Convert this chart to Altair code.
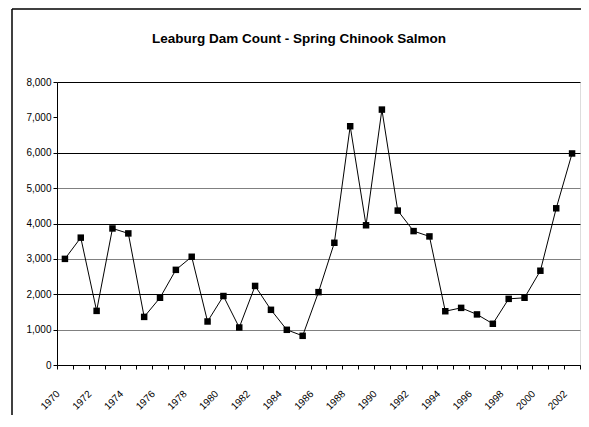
import altair as alt
import pandas as pd

years = list(range(1970, 2003))
counts = [3000, 3600, 1530, 3860, 3720, 1360, 1900, 2690, 3060, 1230,
          1950, 1060, 2235, 1560, 995, 825, 2060, 3455, 6750, 3950,
          7220, 4365, 3785, 3635, 1520, 1615, 1430, 1165, 1870, 1900,
          2665, 4430, 5980]
y_ticks = [0, 1000, 2000, 3000, 4000, 5000, 6000, 7000, 8000]
title_text = "Leaburg Dam Count - Spring Chinook Salmon"

df = pd.DataFrame({"year": years, "count": counts})

FONT = "Liberation Sans"

x_enc = alt.X(
    "year:O",
    scale=alt.Scale(type="band", paddingInner=0, paddingOuter=0),
    axis=alt.Axis(
        title=None,
        tickBand="extent",
        labelExpr="datum.value % 2 == 0 ? datum.label : ''",
        labelAngle=315,
        labelAlign="right",
        labelBaseline="middle",
        labelPadding=23,
        labelOffset=-7,
        labelFontSize=10,
        labelFont=FONT,
        labelColor="black",
        domainColor="black",
        tickColor="black",
        tickSize=4,
        grid=False,
    ),
)

y_enc = alt.Y(
    "count:Q",
    scale=alt.Scale(domain=[0, 8000], nice=False),
    axis=alt.Axis(
        title=None,
        values=y_ticks,
        format=",.0f",
        labelFontSize=10,
        labelFont=FONT,
        labelColor="black",
        labelPadding=2,
        domainColor="black",
        tickColor="black",
        tickSize=4,
        grid=True,
        gridColor={"condition": {"test": "datum.value % 2000 == 1000", "value": "#808080"}, "value": "black"},
        gridOpacity={"condition": {"test": "datum.value == 7000", "value": 0}, "value": 1},
    ),
)

line = alt.Chart(df).mark_line(color="black", strokeWidth=1).encode(x=x_enc, y=y_enc)
pts = alt.Chart(df).mark_square(color="black", opacity=1, size=42).encode(x=x_enc, y=y_enc)

frame_df = pd.DataFrame({"a": [0]})
left_rule = alt.Chart(frame_df).mark_rule(color="black", strokeWidth=1.5).encode(
    x=alt.value(-45), y=alt.value(-73), y2=alt.value(400)
)
top_rule = alt.Chart(frame_df).mark_rule(color="black", strokeWidth=1.5).encode(
    x=alt.value(-45), x2=alt.value(530), y=alt.value(-73)
)
title = alt.Chart(frame_df).mark_text(
    font=FONT, fontSize=13.5, fontWeight="bold", color="black",
    align="center", baseline="alphabetic",
).encode(x=alt.value(242), y=alt.value(-39), text=alt.value(title_text))

chart = (
    alt.layer(left_rule, top_rule, title, line, pts)
    .properties(
        width=523,
        height=283,
        autosize=alt.AutoSizeParams(type="none"),
        padding={"left": 49, "top": 74, "right": 1, "bottom": 50},
    )
    .configure_view(stroke="black", strokeWidth=1)
    .configure(background="white")
)

chart.save("out.html", embed_options={"renderer": "svg", "actions": False})
